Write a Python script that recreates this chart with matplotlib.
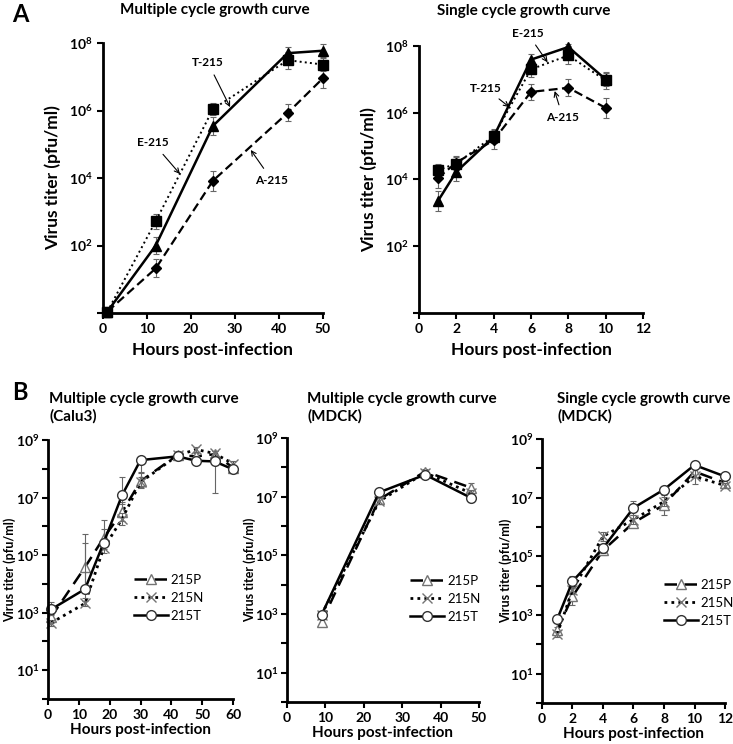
import numpy as np
import matplotlib.pyplot as plt
from matplotlib.ticker import FixedLocator, FixedFormatter

plt.rcParams['font.family'] = ['Lato', 'DejaVu Sans']
plt.rcParams['font.weight'] = 'bold'
plt.rcParams['axes.labelweight'] = 'bold'
plt.rcParams['mathtext.fontset'] = 'custom'
plt.rcParams['mathtext.rm'] = 'Lato:bold'
plt.rcParams['mathtext.bf'] = 'Lato:bold'
plt.rcParams['mathtext.it'] = 'Lato:bold'

# ---- panel A, multiple cycle ----
a_multi_hours = [1, 12, 25, 42, 50]
a_multi_E = [1.1, 525, 1.1e6, 3.1e7, 2.3e7]
a_multi_T = [1.1, 100, 3.5e5, 5.0e7, 5.9e7]
a_multi_A = [1.1, 21, 8.3e3, 8.5e5, 9.0e6]
a_multi_E_err = [0.15, 0.22, 0.17, 0.25, 0.2]
a_multi_T_err = [0.15, 0.25, 0.27, 0.17, 0.2]
a_multi_A_err = [0.15, 0.27, 0.3, 0.25, 0.3]

# ---- panel A, single cycle ----
a_single_hours = [1, 2, 4, 6, 8, 10]
a_single_E = [1.9e4, 3.0e4, 2.0e5, 2.0e7, 5.2e7, 9.3e6]
a_single_T = [2.2e3, 1.7e4, 1.9e5, 3.9e7, 9.3e7, 1.0e7]
a_single_A = [1.1e4, 3.2e4, 1.5e5, 4.2e6, 5.6e6, 1.4e6]
a_single_E_err = [0.2, 0.2, 0.2, 0.22, 0.27, 0.25]
a_single_T_err = [0.3, 0.28, 0.2, 0.18, 0.1, 0.2]
a_single_A_err = [0.3, 0.2, 0.25, 0.25, 0.25, 0.3]

# ---- panel B, Calu3 multiple cycle ----
b_calu_hours = [1, 12, 18, 24, 30, 42, 48, 54, 60]
b_calu_P = [700, 3.8e4, 3.9e5, 3.1e6, 3.7e7, 3.0e8, 2.7e8, 3.2e8, 1.1e8]
b_calu_N = [440, 2.1e3, 1.7e5, 1.8e6, 3.4e7, 2.9e8, 4.7e8, 3.4e8, 1.5e8]
b_calu_T = [1.3e3, 6.6e3, 2.6e5, 1.2e7, 2.0e8, 2.7e8, 1.9e8, 1.8e8, 9.6e7]
b_calu_P_lo = [0.2, 0.9, 0.2, 0.3, 0.2, 0.1, 0.1, 0.1, 0.1]
b_calu_P_hi = [0.2, 1.15, 0.3, 0.35, 0.3, 0.15, 0.1, 0.1, 0.1]
b_calu_N_lo = [0.1, 0.1, 0.15, 0.2, 0.2, 0.1, 0.1, 0.1, 0.1]
b_calu_N_hi = [0.1, 0.1, 0.15, 0.2, 0.2, 0.1, 0.1, 0.1, 0.1]
b_calu_T_lo = [0.2, 0.3, 0.2, 0.3, 0.4, 0.1, 0.1, 1.1, 0.1]
b_calu_T_hi = [0.25, 1.6, 0.8, 0.62, 0.1, 0.15, 0.1, 0.1, 0.1]

# ---- panel B, MDCK multiple cycle ----
b_mdck_m_hours = [9, 24, 36, 48]
b_mdck_m_P = [540, 8.0e6, 7.2e7, 2.0e7]
b_mdck_m_N = [940, 6.9e6, 6.6e7, 1.3e7]
b_mdck_m_T = [930, 1.4e7, 5.6e7, 9.0e6]
b_mdck_m_P_err = [0.1, 0.1, 0.1, 0.15]
b_mdck_m_N_err = [0.1, 0.1, 0.1, 0.1]
b_mdck_m_T_err = [0.1, 0.1, 0.1, 0.15]

# ---- panel B, MDCK single cycle ----
b_mdck_s_hours = [1, 2, 4, 6, 8, 10, 12]
b_mdck_s_P = [310, 4.3e3, 1.6e5, 1.4e6, 5.7e6, 7.8e7, 3.2e7]
b_mdck_s_N = [225, 7.2e3, 4.8e5, 1.8e6, 7.4e6, 5.3e7, 2.6e7]
b_mdck_s_T = [720, 1.4e4, 1.9e5, 4.5e6, 1.9e7, 1.3e8, 5.3e7]
b_mdck_s_P_err = [0.1, 0.3, 0.15, 0.15, 0.35, 0.15, 0.1]
b_mdck_s_N_err = [0.1, 0.15, 0.15, 0.15, 0.15, 0.25, 0.1]
b_mdck_s_T_err = [0.1, 0.2, 0.15, 0.25, 0.1, 0.15, 0.1]


def log_err(vals, lo, hi=None):
    v = np.asarray(vals, float)
    lo = np.asarray(lo, float)
    hi = lo if hi is None else np.asarray(hi, float)
    return [v - v / 10 ** lo, v * 10 ** hi - v]


def style_axes(ax, xmax, xstep, dec_max, label_every, fs_tick, pad=3.5):
    ax.set_yscale('log')
    ax.set_xlim(0, xmax)
    ax.set_ylim(1, 10 ** dec_max)
    ax.set_xticks(np.arange(0, xmax + 0.1, xstep))
    decs = list(range(0, dec_max + 1, 2 if label_every == 'even' else 1))
    ax.yaxis.set_major_locator(FixedLocator([10.0 ** d for d in decs]))
    labels = []
    for d in decs:
        if label_every == 'even':
            labels.append('' if d == 0 else r'$\mathbf{10^{%d}}$' % d)
        else:
            labels.append(r'$\mathbf{10^{%d}}$' % d if d % 2 == 1 else '')
    ax.yaxis.set_major_formatter(FixedFormatter(labels))
    ax.yaxis.set_minor_locator(FixedLocator([]))
    for s in ['top', 'right']:
        ax.spines[s].set_visible(False)
    for s in ['left', 'bottom']:
        ax.spines[s].set_linewidth(2)
    ax.tick_params(direction='out', length=4, width=1.5, labelsize=fs_tick)
    ax.tick_params(axis='y', pad=pad)
    for t in ax.get_xticklabels():
        t.set_fontweight('bold')


fig = plt.figure(figsize=(7.33, 7.44), dpi=100)

eb = dict(ecolor='0.4', elinewidth=0.8, capsize=2.5, capthick=0.8, color='k', clip_on=False)

# A left
ax1 = fig.add_axes([0.1405, 0.5793, 0.300, 0.3629])
ax1.errorbar(a_multi_hours, a_multi_E, yerr=log_err(a_multi_E, a_multi_E_err), ls=':', lw=1.4,
             marker='s', ms=6.5, **eb)
ax1.errorbar(a_multi_hours, a_multi_T, yerr=log_err(a_multi_T, a_multi_T_err), ls='-', lw=1.8,
             marker='^', ms=7, **eb)
ax1.errorbar(a_multi_hours, a_multi_A, yerr=log_err(a_multi_A, a_multi_A_err), ls=(0, (4, 2)), lw=1.6,
             marker='D', ms=5, **eb)
style_axes(ax1, 50, 10, 8, 'even', 10)
ax1.set_xlabel('Hours post-infection', fontsize=12.5, labelpad=5)
ax1.set_ylabel('Virus titer (pfu/ml)', fontsize=12.5, labelpad=6)
arr = dict(arrowstyle='->', lw=0.8, color='k', shrinkA=3, shrinkB=0)
ax1.annotate('T-215', xy=(28.9, 10 ** 6.1), xytext=(23.9, 10 ** 7.41), fontsize=8.5,
             ha='center', va='center', arrowprops=arr)
ax1.annotate('E-215', xy=(17.5, 10 ** 4.12), xytext=(11.4, 10 ** 5.04), fontsize=8.5,
             ha='center', va='center', arrowprops=arr)
ax1.annotate('A-215', xy=(33.6, 10 ** 4.83), xytext=(38.4, 10 ** 3.94), fontsize=8.5,
             ha='center', va='center', arrowprops=arr)

# A right
ax2 = fig.add_axes([0.5716, 0.5793, 0.3056, 0.3589])
ax2.errorbar(a_single_hours, a_single_E, yerr=log_err(a_single_E, a_single_E_err), ls=':', lw=1.4,
             marker='s', ms=6.5, **eb)
ax2.errorbar(a_single_hours, a_single_T, yerr=log_err(a_single_T, a_single_T_err), ls='-', lw=1.8,
             marker='^', ms=7, **eb)
ax2.errorbar(a_single_hours, a_single_A, yerr=log_err(a_single_A, a_single_A_err), ls=(0, (4, 2)), lw=1.6,
             marker='D', ms=5, **eb)
style_axes(ax2, 12, 2, 8, 'even', 10)
ax2.set_xlabel('Hours post-infection', fontsize=12.5, labelpad=5)
ax2.set_ylabel('Virus titer (pfu/ml)', fontsize=12.5, labelpad=6)
ax2.annotate('E-215', xy=(6.89, 10 ** 7.51), xytext=(5.81, 10 ** 8.38), fontsize=8.5,
             ha='center', va='center', arrowprops=arr)
ax2.annotate('T-215', xy=(4.84, 10 ** 6.17), xytext=(3.55, 10 ** 6.74), fontsize=8.5,
             ha='center', va='center', arrowprops=arr)
ax2.annotate('A-215', xy=(7.27, 10 ** 6.65), xytext=(7.7, 10 ** 5.87), fontsize=8.5,
             ha='center', va='center', arrowprops=arr)

fig.text(0.293, 0.986, 'Multiple cycle growth curve', ha='center', va='center', fontsize=11)
fig.text(0.715, 0.985, 'Single cycle growth curve', ha='center', va='center', fontsize=11)
fig.text(0.016, 0.981, 'A', ha='left', va='center', fontsize=17)
fig.text(0.016, 0.472, 'B', ha='left', va='center', fontsize=17)

# B panels
ebb = dict(ecolor='0.4', elinewidth=0.8, capsize=2.5, capthick=0.8, fmt='none', clip_on=False)
b_specs = [
    ([0.0655, 0.0605, 0.2524, 0.3481], b_calu_hours,
     [(b_calu_P, b_calu_P_lo, b_calu_P_hi), (b_calu_N, b_calu_N_lo, b_calu_N_hi),
      (b_calu_T, b_calu_T_lo, b_calu_T_hi)], 60, 10, (0.40, 0.39),
     'Multiple cycle growth curve\n(Calu3)', 0.067, -0.175),
    ([0.3915, 0.0565, 0.2619, 0.3548], b_mdck_m_hours,
     [(b_mdck_m_P, b_mdck_m_P_err, None), (b_mdck_m_N, b_mdck_m_N_err, None),
      (b_mdck_m_T, b_mdck_m_T_err, None)], 50, 10, (0.58, 0.39),
     'Multiple cycle growth curve\n(MDCK)', 0.419, -0.16),
    ([0.7394, 0.0551, 0.2497, 0.3548], b_mdck_s_hours,
     [(b_mdck_s_P, b_mdck_s_P_err, None), (b_mdck_s_N, b_mdck_s_N_err, None),
      (b_mdck_s_T, b_mdck_s_T_err, None)], 12, 2, (0.6, 0.38),
     'Single cycle growth curve\n(MDCK)', 0.760, -0.165),
]
b_names = ['215P', '215N', '215T']
b_styles = [dict(ls=(0, (5, 3)), marker='^', mfc='white', mec='0.45', color='k', lw=1.8, ms=7),
            dict(ls=(0, (1, 1.5)), marker='x', mfc='white', mec='0.45', color='k', lw=2, ms=7),
            dict(ls='-', marker='o', mfc='white', mec='0.2', color='k', lw=1.8, ms=7)]

for rect, hours, series, xmax, xstep, lpos, title, tx, ylx in b_specs:
    ax = fig.add_axes(rect)
    for (vals, lo, hi), name, st in zip(series, b_names, b_styles):
        ax.errorbar(hours, vals, yerr=log_err(vals, lo, hi), **ebb)
        ax.plot(hours, vals, label=name, clip_on=False, **st)
    style_axes(ax, xmax, xstep, 9, 'odd', 10, pad=2)
    ax.set_xlabel('Hours post-infection', fontsize=11, labelpad=1)
    ax.set_ylabel('Virus titer (pfu/ml)', fontsize=9)
    ax.yaxis.set_label_coords(ylx, 0.5)
    leg = ax.legend(loc='center left', bbox_to_anchor=lpos, frameon=False, fontsize=9.5,
                    handlelength=2.6, handletextpad=0.2, labelspacing=0.45)
    for t in leg.get_texts():
        t.set_fontweight('normal')
    fig.text(tx, 0.452, title, ha='left', va='center', fontsize=11, linespacing=1.25)

fig.savefig('out.png', dpi=100)
